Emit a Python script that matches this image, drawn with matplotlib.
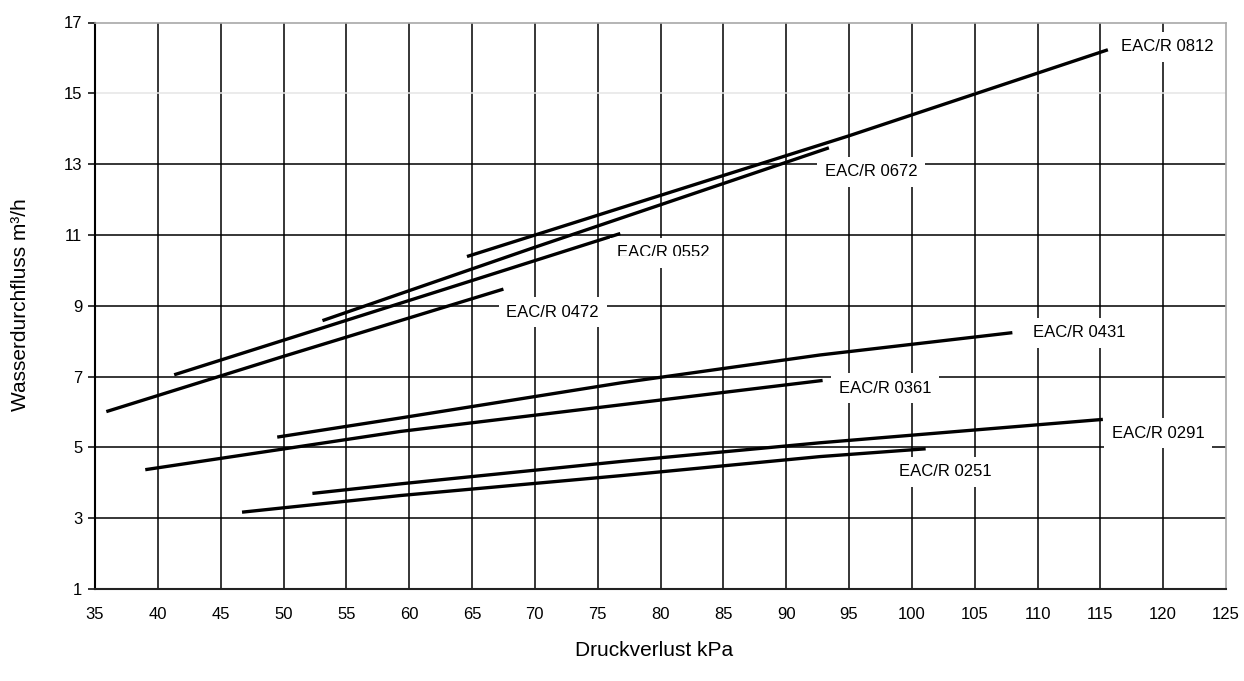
import matplotlib
matplotlib.use('Agg')
import matplotlib.pyplot as plt
from matplotlib.patches import Rectangle

plt.rcParams['font.family'] = ['Liberation Sans', 'DejaVu Sans']

# kennlinien, werte (kPa / m3/h)
series_names = ['EAC/R 0251', 'EAC/R 0291', 'EAC/R 0361', 'EAC/R 0431',
                'EAC/R 0472', 'EAC/R 0552', 'EAC/R 0672', 'EAC/R 0812']

x_0251 = [46.7, 59.3, 76.8, 92.7, 101.1]
y_0251 = [3.17, 3.64, 4.20, 4.74, 4.96]

x_0291 = [52.3, 59.3, 76.8, 92.7, 115.2]
y_0291 = [3.70, 3.97, 4.60, 5.13, 5.79]

x_0361 = [39.0, 59.3, 76.8, 92.9]
y_0361 = [4.37, 5.45, 6.20, 6.89]

x_0431 = [49.5, 59.3, 76.8, 92.7, 108.0]
y_0431 = [5.29, 5.83, 6.82, 7.61, 8.24]

x_0472 = [35.9, 49.9, 67.5]
y_0472 = [6.01, 7.56, 9.47]

x_0552 = [41.3, 62.5, 76.8]
y_0552 = [7.05, 9.43, 11.04]

x_0672 = [53.1, 69.9, 93.4]
y_0672 = [8.58, 10.64, 13.46]

x_0812 = [64.6, 95.0, 115.6]
y_0812 = [10.39, 13.80, 16.23]

xs = [x_0251, x_0291, x_0361, x_0431, x_0472, x_0552, x_0672, x_0812]
ys = [y_0251, y_0291, y_0361, y_0431, y_0472, y_0552, y_0672, y_0812]

x_ticks = list(range(35, 126, 5))
y_ticks = list(range(1, 18, 2))

# label offset from line end, pixels
label_offsets = [(-27, -23), (9, -14), (16, -8), (21, 0),
                 (3, -23), (-3, -19), (-4, -24), (13, 3)]

fig = plt.figure(figsize=(12.44, 6.81), dpi=100)
ax = fig.add_axes([95/1244, 1-589/681, (1226-95)/1244, (589-22.5)/681])

ax.set_xlim(35, 125)
ax.set_ylim(1, 17)
ax.set_xticks(x_ticks)
ax.set_yticks(y_ticks)

#grid
for xv in x_ticks[1:-1]:
    ax.axvline(xv, color='black', lw=1.1, zorder=1)
for yv in y_ticks[1:-1]:
    c = '#e6e6e6' if yv == 15 else 'black'
    ax.axhline(yv, color=c, lw=1.1, zorder=1)

ax.spines['left'].set_color('black')
ax.spines['left'].set_linewidth(1.5)
ax.spines['bottom'].set_color('#222222')
ax.spines['bottom'].set_linewidth(1.5)
ax.spines['top'].set_color('#a8a8a8')
ax.spines['top'].set_linewidth(1.2)
ax.spines['right'].set_color('#a8a8a8')
ax.spines['right'].set_linewidth(1.2)

ax.tick_params(axis='y', length=5, width=1.1, pad=4, labelsize=12)
ax.tick_params(axis='x', length=0, pad=13, labelsize=12)

for i in range(len(xs)):
    ax.plot(xs[i], ys[i], color='black', lw=2.4, solid_capstyle='butt', zorder=2)

for i in range(len(xs)):
    name = series_names[i]
    end = (xs[i][-1], ys[i][-1])
    box = dict(boxstyle='square,pad=0.45', facecolor='white', edgecolor='none')
    if name == 'EAC/R 0552':
        # this label is cut off at the bottom in the original
        ax.annotate(name, end, xytext=label_offsets[i], textcoords='offset pixels',
                    ha='left', va='center', fontsize=12, color='white',
                    bbox=box, zorder=4)
        t = ax.annotate(name, end, xytext=label_offsets[i], textcoords='offset pixels',
                        ha='left', va='center', fontsize=12, color='black', zorder=5)
        t.set_clip_path(Rectangle((60, 10.41), 40, 5, transform=ax.transData))
    else:
        ax.annotate(name, end, xytext=label_offsets[i], textcoords='offset pixels',
                    ha='left', va='center', fontsize=12, color='black',
                    bbox=box, zorder=4)

fig.text(654/1244, 1-651/681, 'Druckverlust kPa', ha='center', va='center', fontsize=15)
fig.text(21/1244, 1-305/681, 'Wasserdurchfluss m³/h', ha='center', va='center',
         rotation=90, fontsize=15)

fig.savefig('out.png', dpi=100, facecolor='white')
